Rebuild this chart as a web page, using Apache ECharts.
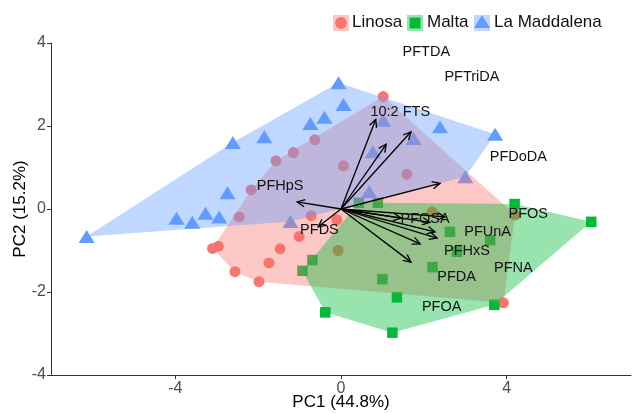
<!DOCTYPE html>
<html><head><meta charset="utf-8">
<script src="https://cdn.jsdelivr.net/npm/echarts@6/dist/echarts.min.js"></script>
<style>html,body{margin:0;padding:0;background:#fff}#c{width:632px;height:413px}</style>
</head><body><div id="c"></div>
<script>
// ---- data ----
const groupNames = ['Linosa', 'Malta', 'La Maddalena'];

const linosaX = [-2.17, -2.46, -3.10, -2.96, -2.56, -1.98, -1.74, -1.47, -1.01, -0.72, -0.63, -1.15, -1.57, 0.06, 1.02, 1.59, -0.07, 2.20, 4.20, 3.92, -0.10];
const linosaY = [0.46, -0.19, -0.95, -0.90, -1.51, -1.75, -1.30, -0.96, -0.66, -0.16, 1.67, 1.36, 1.16, 1.04, 2.71, 0.84, -1.00, -0.07, -0.14, -2.26, -0.26];

const maltaX = [0.43, 0.89, -0.69, -0.93, 1.00, 1.35, -0.38, 1.24, 2.63, 2.21, 3.60, 2.80, 3.70, 4.19, 6.04];
const maltaY = [0.15, 0.15, -1.23, -1.49, -1.69, -2.13, -2.49, -2.98, -0.55, -1.40, -0.75, -1.03, -2.31, 0.12, -0.31];

const maddalenaX = [-6.14, -2.61, -1.85, -0.74, -0.40, 0.06, -0.06, -2.74, -3.97, -3.59, -3.27, -2.94, -1.22, 1.02, 2.39, 3.72, 1.75, 0.77, 3.00, 0.68];
const maddalenaY = [-0.66, 1.60, 1.74, 2.06, 2.21, 2.52, 3.04, 0.39, -0.22, -0.32, -0.10, -0.19, -0.30, 2.14, 1.98, 1.80, 1.70, 1.38, 0.78, 0.42];

const loadingNames = ['PFTDA', 'PFTriDA', '10:2 FTS', 'PFDoDA', 'PFHpS', 'PFDS', 'PFOSA', 'PFOS', 'PFUnA', 'PFHxS', 'PFNA', 'PFDA', 'PFOA'];
const loadingX = [1.09, 1.69, 0.84, 2.39, -1.06, -0.55, 1.45, 2.51, 2.15, 2.27, 2.32, 1.91, 1.69];
const loadingY = [1.56, 1.86, 2.16, 0.62, 0.17, -0.43, -0.22, -0.19, -0.32, -0.55, -0.70, -0.84, -1.28];
const labelX = [2.06, 3.16, 1.43, 4.28, -1.47, -0.52, 2.03, 4.52, 3.54, 3.04, 4.16, 2.79, 2.43];
const labelY = [3.78, 3.17, 2.34, 1.26, 0.55, -0.51, -0.25, -0.13, -0.56, -1.01, -1.43, -1.65, -2.37];

const xTicks = [-4, 0, 4];
const yTicks = [-4, -2, 0, 2, 4];
const xTitle = 'PC1 (44.8%)';
const yTitle = 'PC2 (15.2%)';

// ---- helpers ----
const colors = ['#F8766D', '#00BA38', '#619CFF'];
const fills = ['rgba(248,118,109,0.4)', 'rgba(0,186,56,0.4)', 'rgba(97,156,255,0.4)'];
const FONT = 'Liberation Sans, Arial, Helvetica, sans-serif';

function zip(xs, ys) { return xs.map((x, i) => [x, ys[i]]); }
function hull(pts) {
  const p = pts.slice().sort((a, b) => a[0] - b[0] || a[1] - b[1]);
  const cross = (o, a, b) => (a[0] - o[0]) * (b[1] - o[1]) - (a[1] - o[1]) * (b[0] - o[0]);
  const lower = [], upper = [];
  for (const q of p) { while (lower.length >= 2 && cross(lower[lower.length - 2], lower[lower.length - 1], q) <= 0) lower.pop(); lower.push(q); }
  for (let i = p.length - 1; i >= 0; i--) { const q = p[i]; while (upper.length >= 2 && cross(upper[upper.length - 2], upper[upper.length - 1], q) <= 0) upper.pop(); upper.push(q); }
  upper.pop(); lower.pop();
  return lower.concat(upper);
}

const groups = [zip(linosaX, linosaY), zip(maltaX, maltaY), zip(maddalenaX, maddalenaY)];
const symbols = ['circle', 'rect', 'triangle'];
const symbolSizes = [11, 10.5, [16, 13]];

const series = [];
groups.forEach((g, i) => {
  series.push({
    name: groupNames[i], type: 'scatter', data: g, symbol: symbols[i], symbolSize: symbolSizes[i],
    itemStyle: { color: colors[i], opacity: 1 }, z: 2, silent: true, animation: false
  });
});
groups.forEach((g, i) => {
  const h = hull(g);
  series.push({
    type: 'custom', coordinateSystem: 'cartesian2d', data: h, encode: { x: 0, y: 1 }, z: 3 + i * 0.01, silent: true, animation: false, clip: false,
    renderItem: function (params, api) {
      if (params.dataIndex !== 0) return null;
      return { type: 'polygon', shape: { points: h.map(p => api.coord(p)) }, style: { fill: fills[i], stroke: null } };
    }
  });
});
series.push({
  type: 'custom', coordinateSystem: 'cartesian2d', z: 5, silent: true, animation: false,
  data: loadingX.map((x, i) => [0, 0, x, loadingY[i]]), encode: { x: [0, 2], y: [1, 3] },
  renderItem: function (params, api) {
    const a = api.coord([api.value(0), api.value(1)]);
    const b = api.coord([api.value(2), api.value(3)]);
    const ang = Math.atan2(b[1] - a[1], b[0] - a[0]);
    const L = 8.5, w = 0.45;
    const l = [b[0] - L * Math.cos(ang - w), b[1] - L * Math.sin(ang - w)];
    const r = [b[0] - L * Math.cos(ang + w), b[1] - L * Math.sin(ang + w)];
    return { type: 'group', children: [
      { type: 'line', shape: { x1: a[0], y1: a[1], x2: b[0], y2: b[1] }, style: { stroke: '#000', lineWidth: 1.3 } },
      { type: 'polyline', shape: { points: [l, b, r] }, style: { stroke: '#000', lineWidth: 1.3, fill: null } }
    ] };
  }
});
series.push({
  type: 'custom', coordinateSystem: 'cartesian2d', z: 6, silent: true, animation: false,
  data: labelX.map((x, i) => [x, labelY[i]]), encode: { x: 0, y: 1 },
  renderItem: function (params, api) {
    const p = api.coord([api.value(0), api.value(1)]);
    return { type: 'text', x: p[0], y: p[1], style: { text: loadingNames[params.dataIndex], fontSize: 14.5, fontFamily: FONT, fill: '#111', align: 'center', verticalAlign: 'middle' } };
  }
});

const legendG = [];
const lx = [341, 415, 482];
const ly = 23;
const ltx = [352, 427, 494];
for (let i = 0; i < 3; i++) {
  legendG.push({ type: 'rect', shape: { x: lx[i] - 8, y: ly - 8, width: 16, height: 16 }, style: { fill: fills[i] } });
}
legendG.push({ type: 'circle', shape: { cx: lx[0], cy: ly, r: 6 }, style: { fill: colors[0] } });
legendG.push({ type: 'rect', shape: { x: lx[1] - 5.5, y: ly - 5.5, width: 11, height: 11 }, style: { fill: colors[1] } });
legendG.push({ type: 'polygon', shape: { points: [[lx[2], ly - 8], [lx[2] + 8, ly + 5], [lx[2] - 8, ly + 5]] }, style: { fill: colors[2] } });
for (let i = 0; i < 3; i++) {
  legendG.push({ type: 'text', x: ltx[i], y: ly - 0.5, style: { text: groupNames[i], fontSize: 17, fontFamily: FONT, fill: '#111', align: 'left', verticalAlign: 'middle' } });
}

const axisCommon = {
  type: 'value',
  axisLine: { show: true, onZero: false, lineStyle: { color: '#333', width: 1 } },
  splitLine: { show: false },
  nameLocation: 'middle',
  nameMoveOverlap: false,
  nameTextStyle: { fontSize: 17, color: '#000', fontFamily: FONT }
};

const chart = echarts.init(document.getElementById('c'), null, { renderer: 'canvas' });
chart.setOption({
  animation: false,
  backgroundColor: '#fff',
  grid: { left: 51, right: 1, top: 43, bottom: 38, containLabel: false, outerBoundsMode: 'none' },
  xAxis: Object.assign({}, axisCommon, {
    min: -7, max: 7, name: xTitle, nameGap: 19,
    axisTick: { show: true, length: 4, customValues: xTicks, lineStyle: { color: '#333' } },
    axisLabel: { customValues: xTicks, color: '#4d4d4d', fontSize: 16, margin: 6, fontFamily: FONT }
  }),
  yAxis: Object.assign({}, axisCommon, {
    min: -4, max: 4, interval: 2, name: yTitle, nameGap: 22,
    axisTick: { show: true, length: 4, customValues: yTicks, lineStyle: { color: '#333' } },
    axisLabel: { customValues: yTicks, color: '#4d4d4d', fontSize: 16, margin: 5, fontFamily: FONT }
  }),
  graphic: legendG,
  series: series
});
</script></body></html>
